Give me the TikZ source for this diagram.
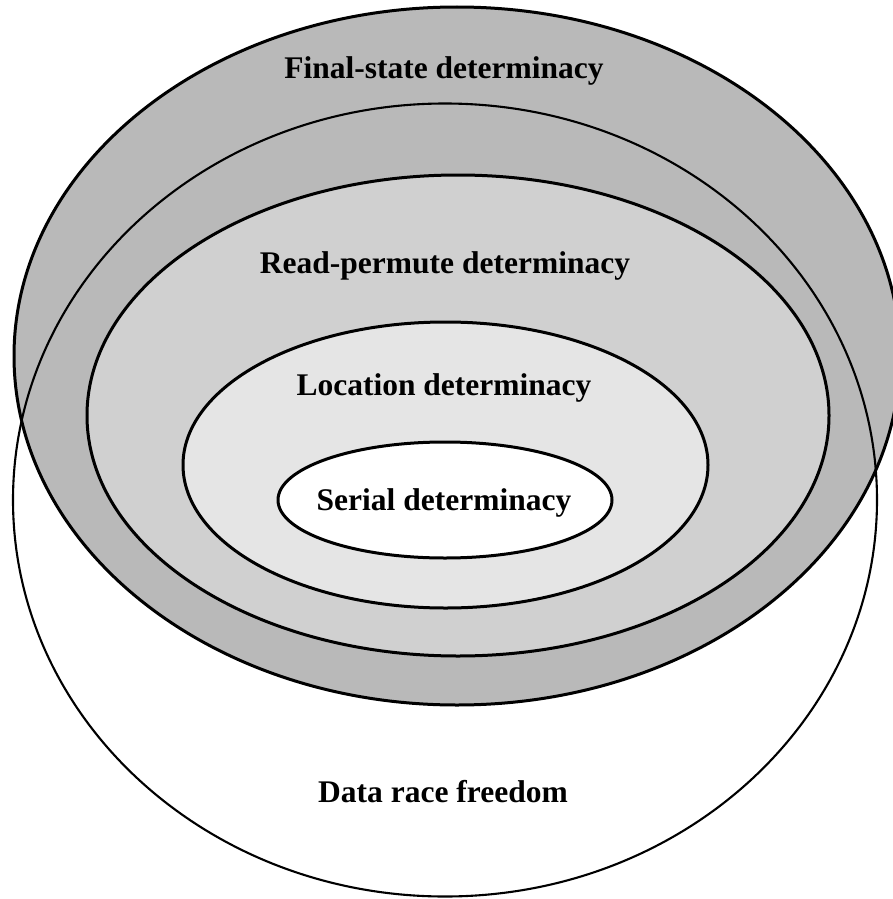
\documentclass[tikz,border=0pt]{standalone}
\usepackage{fontspec}
\setmainfont{Liberation Serif}
\definecolor{fsgray}{HTML}{B9B9B9}
\definecolor{rpgray}{HTML}{D0D0D0}
\definecolor{locgray}{HTML}{E5E5E5}
\begin{document}
\begin{tikzpicture}[x=1pt,y=-1pt,
  setline/.style={line width=3pt},
  drfline/.style={line width=2.1pt},
  lbl/.style={font=\fontsize{31.5}{36}\selectfont\bfseries, anchor=base, inner sep=0pt}]
\useasboundingbox (0,0) rectangle (893,899);
\clip (0,0) rectangle (893,899);
\fill[white] (0,0) rectangle (893,899);
% fills
\fill[fsgray] (457,356) ellipse [x radius=443, y radius=349];
\fill[rpgray] (458,415.5) ellipse [x radius=371, y radius=240.5];
\fill[locgray] (445.5,465) ellipse [x radius=262.5, y radius=143];
\fill[white] (445,500) ellipse [x radius=167, y radius=58];
% outlines
\draw[setline] (457,356) ellipse [x radius=443, y radius=349];
\draw[drfline] (445,500) ellipse [x radius=432, y radius=396.5];
\draw[setline] (458,415.5) ellipse [x radius=371, y radius=240.5];
\draw[setline] (445.5,465) ellipse [x radius=262.5, y radius=143];
\draw[setline] (445,500) ellipse [x radius=167, y radius=58];
% labels
\node[lbl] (fs) at (444,78) {Final-state determinacy};
\node[lbl] (rp) at (445,273) {Read-permute determinacy};
\node[lbl] (loc) at (444,395) {Location determinacy};
\node[lbl] (ser) at (444,510) {Serial determinacy};
\node[lbl] (drf) at (443,802) {Data race freedom};
\end{tikzpicture}
\end{document}
